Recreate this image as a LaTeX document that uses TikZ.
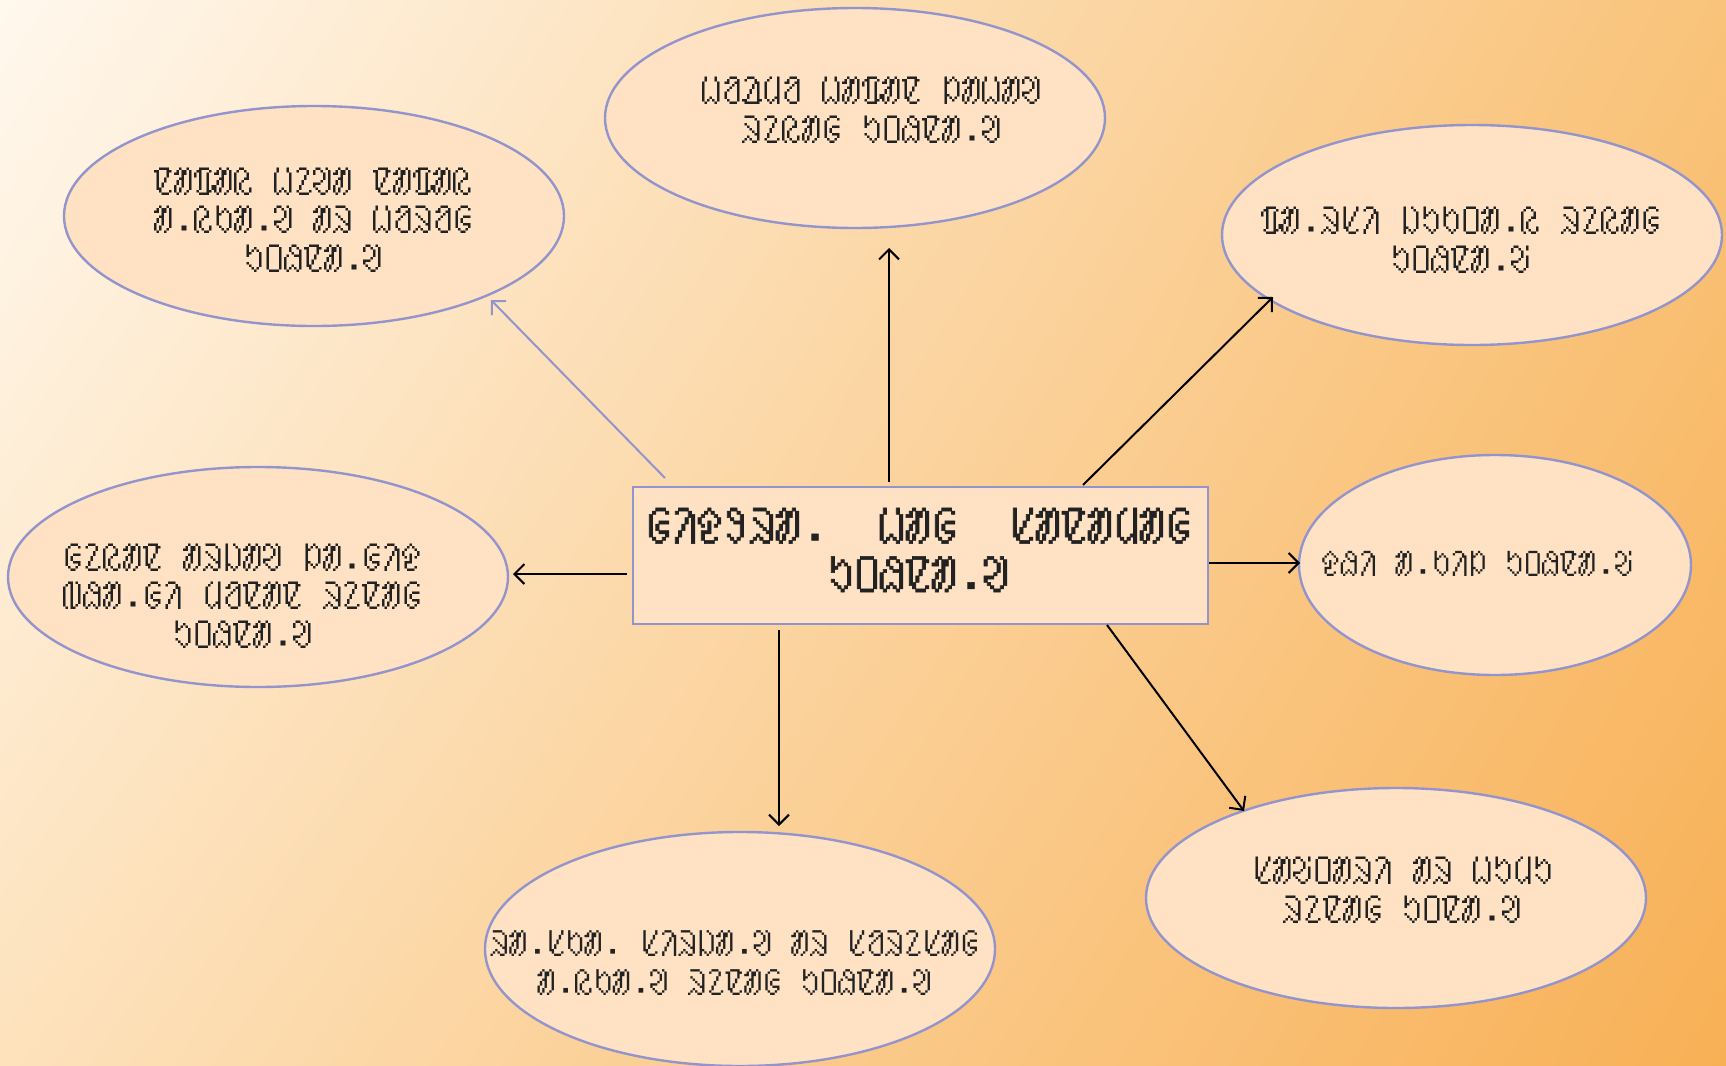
\documentclass[tikz,border=0pt]{standalone}
\usepackage{fontspec}
\usetikzlibrary{shapes.geometric,arrows.meta,shadings}
\newfontfamily\olfont{Unifont}
\newfontfamily\olbold[FakeBold=1.2]{Unifont}
\definecolor{bordc}{HTML}{9494CC}
\definecolor{fillc}{HTML}{FEE2C3}
\definecolor{textc}{HTML}{222222}
\definecolor{bgul}{HTML}{FFF8EE}
\definecolor{bgur}{HTML}{F9C37A}
\definecolor{bgll}{HTML}{FDE2BC}
\definecolor{bglr}{HTML}{F8B055}
\tikzset{
  bubble/.style={ellipse, draw=bordc, fill=fillc, line width=1.2pt, inner sep=0pt, minimum width=250pt, minimum height=110pt},
  btxt/.style={font=\olfont\fontsize{20}{19.3}\selectfont, text=textc, align=center, inner sep=0pt},
  smalltxt/.style={btxt, font=\olfont\fontsize{18.8}{19.3}\selectfont},
  ctxt/.style={font=\olbold\fontsize{26}{24.2}\selectfont, text=textc, align=center, inner sep=0pt},
  arr/.style={-{Straight Barb[length=5pt,width=10pt]}, line width=1pt, black},
}
\begin{document}
\begin{tikzpicture}[x=0.5pt,y=-0.5pt]
\useasboundingbox (0,0) rectangle (1726,1066);
\shade[upper left=bgul, upper right=bgur, lower left=bgll, lower right=bglr] (0,0) rectangle (1726,1066);
% bubbles
\node[bubble] (top) at (855,118) {};
\node[bubble] (tl) at (314,216) {};
\node[bubble] (tr) at (1472,235) {};
\node[bubble] (lf) at (258,577) {};
\node[bubble, minimum width=196pt] (rt) at (1495,565) {};
\node[bubble, minimum width=255pt, minimum height=117pt] (bt) at (740,949) {};
\node[bubble] (br) at (1396,898) {};
\node[draw=bordc, fill=fillc, line width=1.2pt, minimum width=287.5pt, minimum height=68.5pt, inner sep=0pt] (c) at (920.5,555.5) {};
% texts
\node[ctxt] (cT) at (919,550) {ᱜᱤᱫᱽᱨᱟᱹ\ \ ᱦᱟᱜ\ \ ᱥᱟᱱᱟᱢᱟᱜ\\ᱩᱛᱷᱱᱟᱹᱣ};
\node[btxt] (topT) at (872,110) {ᱦᱚᱲᱢᱚ ᱦᱟᱯᱟᱱ ᱞᱟᱦᱟᱣ\\ᱨᱮᱭᱟᱜ ᱩᱛᱷᱱᱟᱹᱣ};
\node[btxt] (tlT) at (314,220) {ᱱᱟᱯᱟᱭ ᱦᱮᱣᱟ ᱱᱟᱯᱟᱭ\\ᱟᱹᱭᱠᱟᱹᱣ ᱟᱨ ᱦᱚᱨᱚᱜ\\ᱩᱛᱷᱱᱟᱹᱣ};
\node[btxt] (trT) at (1461,240) {ᱯᱟᱹᱨᱥᱤ ᱡᱩᱠᱛᱟᱹᱭ ᱨᱮᱭᱟᱜ\\ᱩᱛᱷᱱᱟᱹᱶ};
\node[btxt] (lfT) at (243,596) {ᱜᱮᱭᱟᱱ ᱟᱨᱡᱟᱣ ᱞᱟᱹᱜᱤᱫ\\ᱵᱷᱟᱹᱜᱤ ᱢᱚᱱᱟᱱ ᱨᱮᱱᱟᱜ\\ᱩᱛᱷᱱᱟᱹᱣ};
\node[smalltxt, font=\olfont\fontsize{18.3}{19.3}\selectfont] (rtT) at (1478,564) {ᱫᱷᱤ ᱟᱹᱠᱤᱞ ᱩᱛᱷᱱᱟᱹᱶ};
\node[smalltxt] (btT) at (735,963) {ᱨᱟᱹᱥᱠᱟᱹ ᱥᱤᱨᱡᱟᱹᱣ ᱟᱨ ᱥᱚᱨᱮᱥᱟᱜ\\ᱟᱹᱭᱠᱟᱹᱣ ᱨᱮᱱᱟᱜ ᱩᱛᱷᱱᱟᱹᱣ};
\node[btxt] (brT) at (1403,890) {ᱥᱟᱶᱛᱟᱨᱤ ᱟᱨ ᱦᱩᱢᱩ\\ᱨᱮᱱᱟᱜ ᱩᱛᱱᱟᱹᱣ};
% connectors
\coordinate (tlS) at (665,478); \coordinate (tlE) at (491,300);
\coordinate (tS) at (889,482); \coordinate (tE) at (889,248);
\coordinate (trS) at (1083,485); \coordinate (trE) at (1273,297);
\coordinate (lS) at (627,574); \coordinate (lE) at (513,574);
\coordinate (rS) at (1208,563); \coordinate (rE) at (1300,563);
\coordinate (bS) at (779,630); \coordinate (bE) at (779,826);
\coordinate (brS) at (1107,625); \coordinate (brE) at (1244,811);
\draw[arr, draw=bordc] (tlS) -- (tlE);
\draw[arr] (tS) -- (tE);
\draw[arr] (trS) -- (trE);
\draw[arr] (lS) -- (lE);
\draw[arr] (c.east |- rS) -- (rE);
\draw[arr] (bS) -- (bE);
\draw[arr] (brS) -- (brE);
\end{tikzpicture}
\end{document}
